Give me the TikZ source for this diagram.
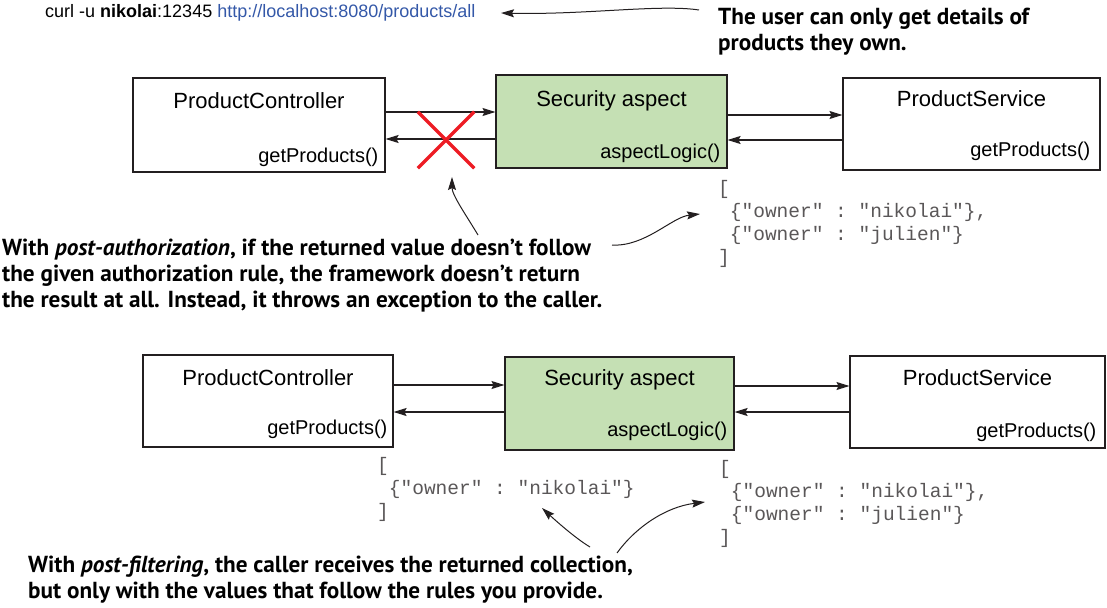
\documentclass[tikz,border=0pt]{standalone}
\usepackage{fontspec}
\setmainfont{Liberation Sans}
\setmonofont{Liberation Mono}
\newfontfamily\notefont{PT Sans}
\usepackage{tikz}
\usetikzlibrary{arrows.meta,positioning,shapes.misc}
\definecolor{aspectgreen}{RGB}{197,224,180}
\definecolor{crossred}{RGB}{237,28,36}
\definecolor{urlblue}{RGB}{52,88,168}
\definecolor{ink}{RGB}{35,31,32}
\tikzset{>={Stealth[length=13pt,width=8pt,inset=2pt]}}
\tikzset{
  unit/.style={draw=ink,line width=1.1pt,inner sep=0pt},
  title/.style={anchor=north,inner sep=0pt,font=\fontsize{22}{26}\selectfont},
  method/.style={anchor=south east,inner sep=0pt,font=\fontsize{20}{24}\selectfont},
  flow/.style={->,draw=ink,line width=1.3pt},
  note/.style={->,draw=ink,line width=1pt},
  callout/.style={anchor=north west,align=left,inner sep=0pt,font=\notefont\bfseries\fontsize{23.2}{26}\selectfont},
  json/.style={anchor=north west,align=left,inner sep=0pt,text=ink!75,font=\ttfamily\fontsize{19.5}{23}\selectfont}
}

\begin{document}
\begin{tikzpicture}[x=1pt,y=1pt]
\useasboundingbox (0,0) rectangle (1107,-607);
% request and its note
\node (curl) [anchor=base west,inner sep=0pt,font=\fontsize{18}{22}\selectfont] at (45,-18) {curl -u \textbf{nikolai}:12345 \textcolor{urlblue}{http://localhost:8080/products/all}};
\node (rule) [callout] at (718,-8) {The user can only get details of\\products they own.};
\coordinate (curlTip) at (501,-13);
\draw[note] ([xshift=-19pt,yshift=-2pt]rule.north west) .. controls (660,-4) and (585,-15) .. (curlTip);

% post-authorization
\node (pc1) [unit,minimum width=252pt,minimum height=94pt] at (259,-125) {};
\node (sa1) [unit,fill=aspectgreen,minimum width=231pt,minimum height=93pt] at (611.5,-121.5) {};
\node (ps1) [unit,minimum width=257pt,minimum height=92pt] at (971.5,-124) {};
\node (pc1name) [title,below=15pt of pc1.north] {ProductController};
\node (sa1name) [title,below=16pt of sa1.north] {Security aspect};
\node (ps1name) [title,below=13pt of ps1.north] {ProductService};
\node (pc1call) [method,above left=6pt and 7pt of pc1.south east] {getProducts()};
\node (sa1call) [method,above left=6pt and 7pt of sa1.south east] {aspectLogic()};
\node (ps1call) [method,above left=10pt and 10pt of ps1.south east] {getProducts()};
\draw[flow] (pc1.east |- 0,-112) -- (sa1.west |- 0,-112);
\draw[flow] (sa1.west |- 0,-139) -- (pc1.east |- 0,-139);
\draw[flow] (sa1.east |- 0,-115) -- (ps1.west |- 0,-115);
\draw[flow] (ps1.west |- 0,-140) -- (sa1.east |- 0,-140);
\node (blocked) [cross out,draw=crossred,line width=3.5pt,minimum width=53pt,minimum height=53pt,inner sep=0pt] at (446,-140) {};
\node (json1) [json] at (718,-180) {[\\\hphantom{[}\{"owner" : "nikolai"\},\\\hphantom{[}\{"owner" : "julien"\}\\]};
\node (post) [callout] at (2,-239) {With \textit{post-authorization}, if the returned value doesn’t follow\\the given authorization rule, the framework doesn’t return\\the result at all. Instead, it throws an exception to the caller.};
\coordinate (blockTip) at (452,-177);
\coordinate (json1Tip) at (700,-214);
\draw[note] ([xshift=476pt,yshift=4pt]post.north west) .. controls (466,-215) and (452,-195) .. (blockTip);
\draw[note] ([xshift=610pt,yshift=-6pt]post.north west) .. controls (645,-247) and (672,-217) .. (json1Tip);

% post-filtering
\node (pc2) [unit,minimum width=250pt,minimum height=92pt] at (268,-401) {};
\node (sa2) [unit,fill=aspectgreen,minimum width=229pt,minimum height=93pt] at (619.5,-403.5) {};
\node (ps2) [unit,minimum width=255pt,minimum height=92pt] at (977.5,-402) {};
\node (pc2name) [title,below=15pt of pc2.north] {ProductController};
\node (sa2name) [title,below=13pt of sa2.north] {Security aspect};
\node (ps2name) [title,below=14pt of ps2.north] {ProductService};
\node (pc2call) [method,above left=9pt and 6pt of pc2.south east] {getProducts()};
\node (sa2call) [method,above left=10pt and 7pt of sa2.south east] {aspectLogic()};
\node (ps2call) [method,above left=7pt and 9pt of ps2.south east] {getProducts()};
\draw[flow] (pc2.east |- 0,-385) -- (sa2.west |- 0,-385);
\draw[flow] (sa2.west |- 0,-412) -- (pc2.east |- 0,-412);
\draw[flow] (sa2.east |- 0,-386) -- (ps2.west |- 0,-386);
\draw[flow] (ps2.west |- 0,-412) -- (sa2.east |- 0,-412);
\node (json2) [json] at (377,-457) {[\\\hphantom{[}\{"owner" : "nikolai"\}\\]};
\node (json3) [json] at (719,-460) {[\\\hphantom{[}\{"owner" : "nikolai"\},\\\hphantom{[}\{"owner" : "julien"\}\\]};
\node (filt) [callout] at (28,-556) {With \textit{post-filtering}, the caller receives the returned collection,\\but only with the values that follow the rules you provide.};
\coordinate (json2Tip) at (542,-508);
\coordinate (json3Tip) at (705,-502);
\draw[note] ([xshift=562pt,yshift=9pt]filt.north west) .. controls (575,-538) and (555,-520) .. (json2Tip);
\draw[note] ([xshift=589pt,yshift=3pt]filt.north west) .. controls (635,-528) and (665,-507) .. (json3Tip);
\end{tikzpicture}
\end{document}
